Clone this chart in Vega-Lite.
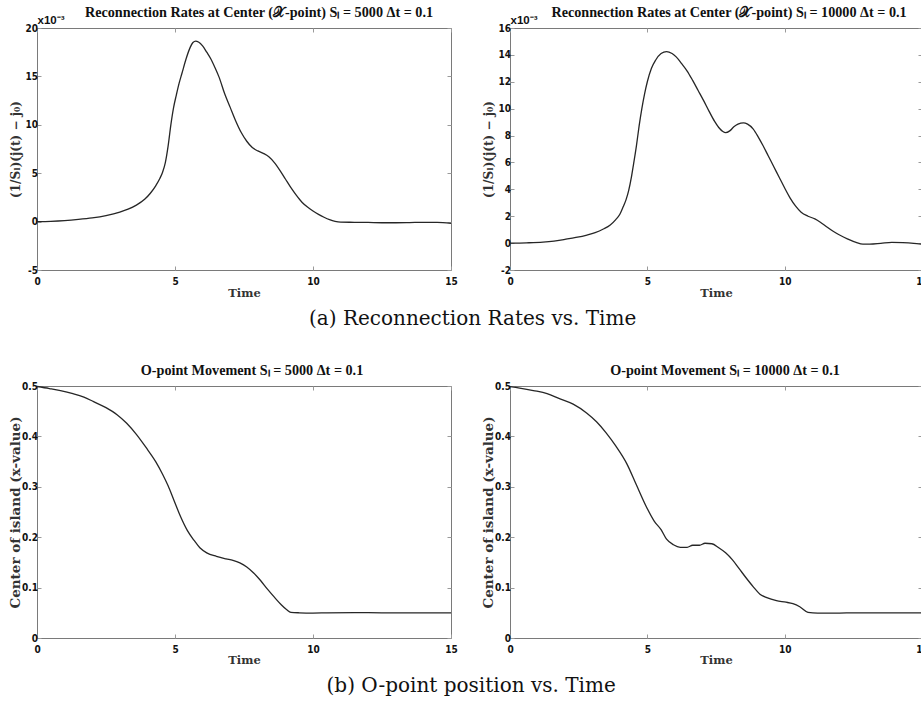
{
  "$schema": "https://vega.github.io/schema/vega-lite/v6.json",
  "background": "white",
  "padding": {"left": 7, "top": 5, "right": 0, "bottom": 0},
  "spacing": 34,
  "config": {
    "view": {"stroke": "#7a7a7a", "strokeWidth": 1},
    "axis": {
      "grid": false,
      "domain": false,
      "labelFlush": false,
      "tickColor": "#9a9a9a",
      "tickSize": -4,
      "labelFont": "Liberation Sans Narrow, DejaVu Sans Condensed, Liberation Sans, sans-serif",
      "labelFontWeight": "bold",
      "labelFontSize": 10,
      "labelColor": "#111111",
      "titleFont": "DejaVu Serif",
      "titleFontWeight": "bold",
      "titleColor": "#333333",
      "titleFontSize": 12
    },
    "axisBottom": {"labelPadding": 10, "titleFontSize": 11.5},
    "axisLeft": {"labelPadding": 3.5},
    "line": {"color": "#262626", "strokeWidth": 1.3, "interpolate": "monotone"}
  },
  "datasets": {
    "rate5000": [
      {"t": 0, "v": 0}, {"t": 0.5, "v": 0.00003}, {"t": 1, "v": 0.0001}, {"t": 1.5, "v": 0.00022},
      {"t": 2, "v": 0.00038}, {"t": 2.5, "v": 0.00062}, {"t": 3, "v": 0.00098}, {"t": 3.3, "v": 0.00128},
      {"t": 3.6, "v": 0.0017}, {"t": 3.9, "v": 0.0023}, {"t": 4.1, "v": 0.0029}, {"t": 4.3, "v": 0.0037},
      {"t": 4.45, "v": 0.00445}, {"t": 4.55, "v": 0.0051}, {"t": 4.65, "v": 0.0061}, {"t": 4.75, "v": 0.0078},
      {"t": 4.85, "v": 0.01}, {"t": 4.95, "v": 0.0118}, {"t": 5.05, "v": 0.0131}, {"t": 5.15, "v": 0.0143},
      {"t": 5.25, "v": 0.0153}, {"t": 5.4, "v": 0.0168}, {"t": 5.55, "v": 0.018}, {"t": 5.65, "v": 0.0185},
      {"t": 5.75, "v": 0.01865}, {"t": 5.85, "v": 0.01855}, {"t": 6, "v": 0.01815}, {"t": 6.15, "v": 0.0175},
      {"t": 6.3, "v": 0.0168}, {"t": 6.45, "v": 0.0159}, {"t": 6.6, "v": 0.0149}, {"t": 6.8, "v": 0.0132},
      {"t": 7, "v": 0.0118}, {"t": 7.2, "v": 0.0104}, {"t": 7.4, "v": 0.0092}, {"t": 7.6, "v": 0.0083},
      {"t": 7.8, "v": 0.00765}, {"t": 8, "v": 0.0073}, {"t": 8.2, "v": 0.00705}, {"t": 8.4, "v": 0.0067},
      {"t": 8.6, "v": 0.0061}, {"t": 8.8, "v": 0.0053}, {"t": 9, "v": 0.0044}, {"t": 9.2, "v": 0.0035},
      {"t": 9.4, "v": 0.0027}, {"t": 9.6, "v": 0.002}, {"t": 9.8, "v": 0.0015}, {"t": 10, "v": 0.0011},
      {"t": 10.2, "v": 0.00075}, {"t": 10.4, "v": 0.00045}, {"t": 10.6, "v": 0.0002}, {"t": 10.8, "v": 0.00003},
      {"t": 11, "v": -0.00005}, {"t": 11.5, "v": -0.00007}, {"t": 12, "v": -0.00009}, {"t": 12.5, "v": -0.00012},
      {"t": 13, "v": -0.00012}, {"t": 13.5, "v": -0.0001}, {"t": 14, "v": -0.00007}, {"t": 14.5, "v": -0.00008},
      {"t": 15, "v": -0.00018}
    ],
    "rate10000": [
      {"t": 0, "v": 0}, {"t": 0.6, "v": 0.00002}, {"t": 1.2, "v": 0.00007}, {"t": 1.6, "v": 0.00015},
      {"t": 2, "v": 0.00028}, {"t": 2.4, "v": 0.00042}, {"t": 2.8, "v": 0.0006}, {"t": 3.1, "v": 0.00078},
      {"t": 3.4, "v": 0.00105}, {"t": 3.65, "v": 0.00135}, {"t": 3.85, "v": 0.00175}, {"t": 4, "v": 0.00215},
      {"t": 4.12, "v": 0.0027}, {"t": 4.22, "v": 0.0032}, {"t": 4.32, "v": 0.0039}, {"t": 4.42, "v": 0.0049},
      {"t": 4.5, "v": 0.0059}, {"t": 4.6, "v": 0.0072}, {"t": 4.7, "v": 0.0087}, {"t": 4.8, "v": 0.01},
      {"t": 4.9, "v": 0.0111}, {"t": 5, "v": 0.012}, {"t": 5.15, "v": 0.013}, {"t": 5.3, "v": 0.0136},
      {"t": 5.5, "v": 0.0141}, {"t": 5.7, "v": 0.01425}, {"t": 5.9, "v": 0.0141}, {"t": 6.05, "v": 0.01385},
      {"t": 6.25, "v": 0.01335}, {"t": 6.45, "v": 0.0128}, {"t": 6.65, "v": 0.0121}, {"t": 6.85, "v": 0.01135},
      {"t": 7.05, "v": 0.0106}, {"t": 7.25, "v": 0.0098}, {"t": 7.45, "v": 0.00905}, {"t": 7.6, "v": 0.0086},
      {"t": 7.75, "v": 0.0083}, {"t": 7.85, "v": 0.00822}, {"t": 8, "v": 0.00835}, {"t": 8.15, "v": 0.00865},
      {"t": 8.3, "v": 0.00885}, {"t": 8.5, "v": 0.00895}, {"t": 8.65, "v": 0.00885}, {"t": 8.85, "v": 0.0085},
      {"t": 9.05, "v": 0.00785}, {"t": 9.2, "v": 0.0073}, {"t": 9.4, "v": 0.0065}, {"t": 9.6, "v": 0.0057},
      {"t": 9.8, "v": 0.0049}, {"t": 10, "v": 0.0041}, {"t": 10.2, "v": 0.00335}, {"t": 10.4, "v": 0.00275},
      {"t": 10.6, "v": 0.0023}, {"t": 10.85, "v": 0.002}, {"t": 11.1, "v": 0.0018}, {"t": 11.3, "v": 0.00155},
      {"t": 11.5, "v": 0.00125}, {"t": 11.75, "v": 0.0009}, {"t": 12, "v": 0.0006}, {"t": 12.3, "v": 0.0003},
      {"t": 12.6, "v": 0.00005}, {"t": 12.85, "v": -0.00008}, {"t": 13.1, "v": -0.00008}, {"t": 13.5, "v": -0.00002},
      {"t": 13.9, "v": 0.00005}, {"t": 14.3, "v": 0.00003}, {"t": 14.7, "v": -0.00002}, {"t": 15, "v": -0.00008}
    ],
    "opoint5000": [
      {"t": 0, "v": 0.499}, {"t": 0.45, "v": 0.495}, {"t": 0.85, "v": 0.491}, {"t": 1.3, "v": 0.485},
      {"t": 1.7, "v": 0.478}, {"t": 2.05, "v": 0.469}, {"t": 2.5, "v": 0.457}, {"t": 2.9, "v": 0.443},
      {"t": 3.25, "v": 0.426}, {"t": 3.6, "v": 0.404}, {"t": 3.95, "v": 0.378}, {"t": 4.3, "v": 0.35},
      {"t": 4.55, "v": 0.325}, {"t": 4.75, "v": 0.302}, {"t": 4.95, "v": 0.275}, {"t": 5.2, "v": 0.241},
      {"t": 5.45, "v": 0.213}, {"t": 5.7, "v": 0.193}, {"t": 5.9, "v": 0.179}, {"t": 6.15, "v": 0.169},
      {"t": 6.5, "v": 0.162}, {"t": 6.85, "v": 0.157}, {"t": 7.1, "v": 0.154}, {"t": 7.35, "v": 0.149},
      {"t": 7.6, "v": 0.141}, {"t": 7.85, "v": 0.129}, {"t": 8.1, "v": 0.114}, {"t": 8.35, "v": 0.097},
      {"t": 8.6, "v": 0.081}, {"t": 8.85, "v": 0.066}, {"t": 9.05, "v": 0.056}, {"t": 9.2, "v": 0.051},
      {"t": 9.5, "v": 0.05}, {"t": 10, "v": 0.0495}, {"t": 10.5, "v": 0.05}, {"t": 11.5, "v": 0.0505},
      {"t": 12.5, "v": 0.05}, {"t": 15, "v": 0.05}
    ],
    "opoint10000": [
      {"t": 0, "v": 0.499}, {"t": 0.35, "v": 0.496}, {"t": 0.85, "v": 0.491}, {"t": 1.35, "v": 0.485},
      {"t": 1.8, "v": 0.475}, {"t": 2.3, "v": 0.464}, {"t": 2.8, "v": 0.446}, {"t": 3.15, "v": 0.429},
      {"t": 3.5, "v": 0.407}, {"t": 3.85, "v": 0.381}, {"t": 4.25, "v": 0.346}, {"t": 4.6, "v": 0.304},
      {"t": 4.95, "v": 0.262}, {"t": 5.25, "v": 0.232}, {"t": 5.5, "v": 0.215}, {"t": 5.7, "v": 0.196},
      {"t": 5.95, "v": 0.185}, {"t": 6.2, "v": 0.18}, {"t": 6.45, "v": 0.18}, {"t": 6.65, "v": 0.184},
      {"t": 6.9, "v": 0.184}, {"t": 7.1, "v": 0.188}, {"t": 7.35, "v": 0.187}, {"t": 7.6, "v": 0.179},
      {"t": 7.85, "v": 0.169}, {"t": 8.1, "v": 0.155}, {"t": 8.35, "v": 0.137}, {"t": 8.6, "v": 0.119},
      {"t": 8.85, "v": 0.102}, {"t": 9.1, "v": 0.087}, {"t": 9.35, "v": 0.08}, {"t": 9.7, "v": 0.074},
      {"t": 10.05, "v": 0.071}, {"t": 10.3, "v": 0.068}, {"t": 10.55, "v": 0.062}, {"t": 10.85, "v": 0.051},
      {"t": 11.2, "v": 0.0495}, {"t": 12, "v": 0.0495}, {"t": 12.5, "v": 0.05}, {"t": 15, "v": 0.05}
    ]
  },
  "vconcat": [
    {
      "bounds": "flush",
      "spacing": 59,
      "title": {"text": "(a) Reconnection Rates vs. Time", "orient": "bottom", "anchor": "middle", "dx": 4, "offset": 9.5, "font": "DejaVu Serif", "fontSize": 20, "fontWeight": "normal", "color": "#111111"},
      "hconcat": [
        {
          "width": 414,
          "height": 242,
          "title": {"text": "Reconnection Rates at Center (𝒳-point) Sₗ = 5000 Δt = 0.1", "font": "Liberation Serif", "fontSize": 14.2, "fontWeight": "bold", "color": "#111111", "anchor": "middle", "dx": 15, "offset": -6},
          "data": {"name": "rate5000"},
          "layer": [
            {
              "mark": {"type": "line"},
              "encoding": {
                "x": {"field": "t", "type": "quantitative", "scale": {"domain": [0, 15], "nice": false, "zero": false},
                      "axis": {"orient": "bottom", "values": [0, 5, 10, 15], "title": "Time", "titleY": 23, "titleBaseline": "middle"}},
                "y": {"field": "v", "type": "quantitative", "scale": {"domain": [-0.005, 0.02], "nice": false, "zero": false},
                      "axis": {"orient": "left", "values": [-0.005, 0, 0.005, 0.01, 0.015, 0.02], "labelExpr": "toString(round(datum.value * 1000))",
                               "title": "(1/Sₗ)(j(t) − j₀)", "titleX": -22, "titleBaseline": "middle"}}
              }
            },
            {
              "mark": {"type": "line", "strokeOpacity": 0},
              "encoding": {
                "x": {"field": "t", "type": "quantitative",
                      "axis": {"orient": "top", "values": [0, 5, 10, 15], "labels": false, "title": "x10⁻³", "titleFont": "Liberation Sans", "titleFontSize": 11.5, "titleColor": "#111111", "titleAnchor": "start", "titleAlign": "left", "titleX": 0, "titleY": -3, "titleBaseline": "bottom"}},
                "y": {"field": "v", "type": "quantitative",
                      "axis": {"orient": "right", "values": [-0.005, 0, 0.005, 0.01, 0.015, 0.02], "labels": false, "title": null}}
              }
            }
          ],
          "resolve": {"axis": {"x": "independent", "y": "independent"}}
        },
        {
          "width": 412,
          "height": 242,
          "title": {"text": "Reconnection Rates at Center (𝒳-point) Sₗ = 10000 Δt = 0.1", "font": "Liberation Serif", "fontSize": 14.2, "fontWeight": "bold", "color": "#111111", "anchor": "middle", "dx": 13, "offset": -6},
          "data": {"name": "rate10000"},
          "layer": [
            {
              "mark": {"type": "line"},
              "encoding": {
                "x": {"field": "t", "type": "quantitative", "scale": {"domain": [0, 15], "nice": false, "zero": false},
                      "axis": {"orient": "bottom", "values": [0, 5, 10, 15], "title": "Time", "titleY": 23, "titleBaseline": "middle"}},
                "y": {"field": "v", "type": "quantitative", "scale": {"domain": [-0.002, 0.016], "nice": false, "zero": false},
                      "axis": {"orient": "left", "values": [-0.002, 0, 0.002, 0.004, 0.006, 0.008, 0.01, 0.012, 0.014, 0.016], "labelExpr": "toString(round(datum.value * 1000))",
                               "title": "(1/Sₗ)(j(t) − j₀)", "titleX": -22, "titleBaseline": "middle"}}
              }
            },
            {
              "mark": {"type": "line", "strokeOpacity": 0},
              "encoding": {
                "x": {"field": "t", "type": "quantitative",
                      "axis": {"orient": "top", "values": [0, 5, 10, 15], "labels": false, "title": "x10⁻³", "titleFont": "Liberation Sans", "titleFontSize": 11.5, "titleColor": "#111111", "titleAnchor": "start", "titleAlign": "left", "titleX": 0, "titleY": -3, "titleBaseline": "bottom"}},
                "y": {"field": "v", "type": "quantitative",
                      "axis": {"orient": "right", "values": [-0.002, 0, 0.002, 0.004, 0.006, 0.008, 0.01, 0.012, 0.014, 0.016], "labels": false, "title": null}}
              }
            }
          ],
          "resolve": {"axis": {"x": "independent", "y": "independent"}}
        }
      ]
    },
    {
      "bounds": "flush",
      "spacing": 59,
      "title": {"text": "(b) O-point position vs. Time", "orient": "bottom", "anchor": "middle", "dx": 3, "offset": 9.5, "font": "DejaVu Serif", "fontSize": 20, "fontWeight": "normal", "color": "#111111"},
      "hconcat": [
        {
          "width": 414,
          "height": 252,
          "title": {"text": "O-point Movement Sₗ = 5000 Δt = 0.1", "font": "Liberation Serif", "fontSize": 14.2, "fontWeight": "bold", "color": "#111111", "anchor": "middle", "dx": 8, "offset": 2.5},
          "data": {"name": "opoint5000"},
          "layer": [
            {
              "mark": {"type": "line"},
              "encoding": {
                "x": {"field": "t", "type": "quantitative", "scale": {"domain": [0, 15], "nice": false, "zero": false},
                      "axis": {"orient": "bottom", "values": [0, 5, 10, 15], "title": "Time", "titleY": 22, "titleBaseline": "middle"}},
                "y": {"field": "v", "type": "quantitative", "scale": {"domain": [0, 0.5], "nice": false, "zero": false},
                      "axis": {"orient": "left", "values": [0, 0.1, 0.2, 0.3, 0.4, 0.5], "labelExpr": "format(datum.value, '.1~f')",
                               "title": "Center of island (x-value)", "titleFontSize": 13.5, "titleX": -22, "titleBaseline": "middle"}}
              }
            },
            {
              "mark": {"type": "line", "strokeOpacity": 0},
              "encoding": {
                "x": {"field": "t", "type": "quantitative",
                      "axis": {"orient": "top", "values": [0, 5, 10, 15], "labels": false, "title": null}},
                "y": {"field": "v", "type": "quantitative",
                      "axis": {"orient": "right", "values": [0, 0.1, 0.2, 0.3, 0.4, 0.5], "labels": false, "title": null}}
              }
            }
          ],
          "resolve": {"axis": {"x": "independent", "y": "independent"}}
        },
        {
          "width": 412,
          "height": 252,
          "title": {"text": "O-point Movement Sₗ = 10000 Δt = 0.1", "font": "Liberation Serif", "fontSize": 14.2, "fontWeight": "bold", "color": "#111111", "anchor": "middle", "dx": 9, "offset": 2.5},
          "data": {"name": "opoint10000"},
          "layer": [
            {
              "mark": {"type": "line"},
              "encoding": {
                "x": {"field": "t", "type": "quantitative", "scale": {"domain": [0, 15], "nice": false, "zero": false},
                      "axis": {"orient": "bottom", "values": [0, 5, 10, 15], "title": "Time", "titleY": 22, "titleBaseline": "middle"}},
                "y": {"field": "v", "type": "quantitative", "scale": {"domain": [0, 0.5], "nice": false, "zero": false},
                      "axis": {"orient": "left", "values": [0, 0.1, 0.2, 0.3, 0.4, 0.5], "labelExpr": "format(datum.value, '.1~f')",
                               "title": "Center of island (x-value)", "titleFontSize": 13.5, "titleX": -22, "titleBaseline": "middle"}}
              }
            },
            {
              "mark": {"type": "line", "strokeOpacity": 0},
              "encoding": {
                "x": {"field": "t", "type": "quantitative",
                      "axis": {"orient": "top", "values": [0, 5, 10, 15], "labels": false, "title": null}},
                "y": {"field": "v", "type": "quantitative",
                      "axis": {"orient": "right", "values": [0, 0.1, 0.2, 0.3, 0.4, 0.5], "labels": false, "title": null}}
              }
            }
          ],
          "resolve": {"axis": {"x": "independent", "y": "independent"}}
        }
      ]
    }
  ]
}
